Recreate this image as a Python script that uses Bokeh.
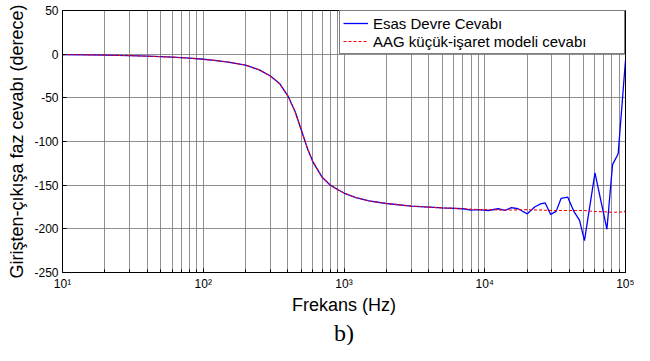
from bokeh.plotting import figure
from bokeh.models import FixedTicker, Legend, LegendItem, Title
from bokeh.embed import file_html
from bokeh.resources import INLINE

# AAG small-signal model response (red dashed)
freq_model = [10, 15, 20, 30, 40, 50, 60, 70, 80, 100, 120, 150, 200, 250, 300, 350,
              400, 450, 500, 550, 600, 700, 800, 900, 1000, 1200, 1500, 2000, 3000,
              5000, 7000, 9000, 10000, 15000, 20000, 30000, 40000, 50000, 60000,
              70000, 80000, 90000, 100000]
phase_model = [-0.5, -0.8, -1.1, -1.7, -2.3, -2.8, -3.4, -4.0, -4.6, -5.8, -7.1, -9.0,
               -12.6, -18, -25, -34, -48, -66, -88, -108, -123, -141, -150, -155, -159,
               -164, -168, -171, -174, -176, -177, -178, -178, -178.5, -178, -179, -179,
               -179, -180, -180.5, -181, -181, -180]

# Original circuit response (blue)
freq_circuit = [10, 15, 20, 30, 40, 50, 60, 70, 80, 100, 120, 150, 200, 250, 300, 350,
                400, 450, 500, 550, 600, 700, 800, 900, 1000, 1200, 1500, 2000, 3000,
                5000, 7000, 8000, 9000, 10590, 12450, 13890, 15460, 17250, 20060, 22640,
                24950, 26900, 29380, 32150, 34890, 38900, 42930, 47100, 51100, 60700,
                73800, 80900, 88700, 100000]
phase_circuit = [-0.5, -0.8, -1.1, -1.7, -2.3, -2.8, -3.4, -4.0, -4.6, -5.8, -7.1, -9.0,
                 -12.6, -18, -25, -34, -48, -66, -88, -108, -123, -141, -150, -155, -159,
                 -164, -168, -171, -174, -176, -177, -178.5, -178, -179, -177, -179,
                 -175.7, -177, -182.8, -175, -171.5, -170.4, -183.5, -180, -165, -163.7,
                 -180, -190, -213.6, -136, -200.5, -126.5, -114, -7]

y_ticks = [-250, -200, -150, -100, -50, 0, 50]
x_ticks = [10, 100, 1000, 10000, 100000]
x_tick_labels = ["10\u00b9", "10\u00b2", "10\u00b3", "10\u2074", "10\u2075"]
x_minor = [m * 10 ** k for k in range(1, 5) for m in range(2, 10)]

FONT = "Liberation Sans"
GRID = "#7d7d7d"

p = figure(width=634, height=345, x_axis_type="log", x_range=(10, 1e5),
           y_range=(-250, 50), output_backend="svg", toolbar_location=None,
           min_border_left=62, min_border_right=9, min_border_top=10,
           min_border_bottom=72, background_fill_color="white",
           border_fill_color="white")

p.outline_line_color = "black"
p.outline_line_width = 1

# axes
p.xaxis.ticker = FixedTicker(ticks=x_ticks, minor_ticks=x_minor)
p.xaxis.major_label_overrides = {t: l for t, l in zip(x_ticks, x_tick_labels)}
p.yaxis.ticker = FixedTicker(ticks=y_ticks)
p.yaxis.major_label_overrides = {t: str(t) for t in y_ticks}

for ax in (p.xaxis[0], p.yaxis[0]):
    ax.axis_line_color = "black"
    ax.major_tick_line_color = "black"
    ax.minor_tick_line_color = "black"
    ax.major_tick_in = 4
    ax.major_tick_out = 0
    ax.minor_tick_in = 3
    ax.minor_tick_out = 0
    ax.major_label_text_font = FONT
    ax.major_label_text_font_size = "12px"
    ax.major_label_text_color = "black"
    ax.axis_label_text_font = FONT
    ax.axis_label_text_font_size = "18px"
    ax.axis_label_text_font_style = "normal"
    ax.axis_label_text_color = "black"

p.yaxis.minor_tick_line_color = None
p.xaxis.axis_label = "Frekans (Hz)"
p.yaxis.axis_label = "Girişten-çıkışa faz cevabı (derece)"
p.xaxis.major_label_standoff = 4
p.yaxis.major_label_standoff = 4
p.xaxis.axis_label_standoff = 1
p.yaxis.axis_label_standoff = 4

# grid
p.xgrid.ticker = FixedTicker(ticks=x_ticks, minor_ticks=x_minor)
p.ygrid.ticker = FixedTicker(ticks=y_ticks)
p.xgrid.grid_line_color = GRID
p.xgrid.minor_grid_line_color = GRID
p.ygrid.grid_line_color = GRID
for g in (p.xgrid[0], p.ygrid[0]):
    g.grid_line_alpha = 0.85
    g.grid_line_width = 1
p.xgrid.minor_grid_line_alpha = 0.85

# lines
r_blue = p.line(freq_circuit, phase_circuit, line_color="#0000ff", line_width=1.3)
r_red = p.line(freq_model, phase_model, line_color="#ff0000", line_width=1.1,
               line_dash="3 2")

legend = Legend(items=[LegendItem(label="Esas Devre Cevabı", renderers=[r_blue]),
                       LegendItem(label="AAG küçük-işaret modeli cevabı", renderers=[r_red])],
                location="top_right", margin=0, padding=3, spacing=0,
                glyph_width=25, glyph_height=18, label_height=18, label_width=248,
                label_standoff=5, label_text_font=FONT, label_text_font_size="15px",
                label_text_color="black", border_line_color="black",
                border_line_width=1, background_fill_color="white",
                background_fill_alpha=1)
p.add_layout(legend, "center")

p.add_layout(Title(text="b)", align="center", text_font="Liberation Serif",
                   text_font_size="24px", text_font_style="normal",
                   text_color="black", standoff=0, offset=0), "below")

open("out.html", "w").write(file_html(p, INLINE))
